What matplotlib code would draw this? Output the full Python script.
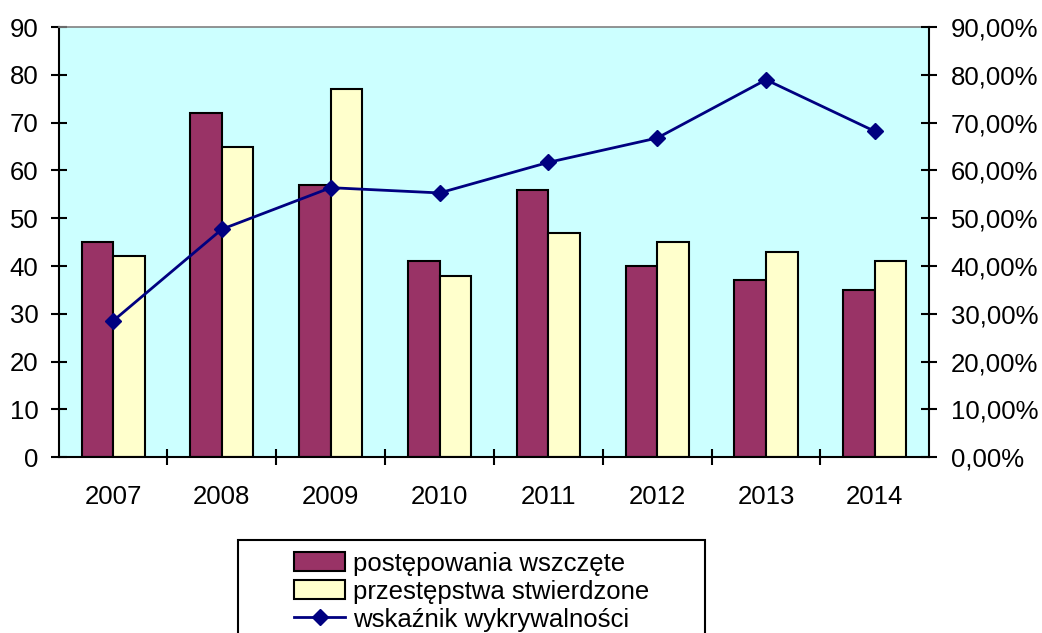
import matplotlib
matplotlib.use("Agg")
import matplotlib.pyplot as plt
import numpy as np
from matplotlib.patches import Patch, Rectangle
from matplotlib.lines import Line2D
from matplotlib.ticker import FixedLocator, FuncFormatter

plt.rcParams['font.family'] = ['Liberation Sans', 'DejaVu Sans']

years = ['2007', '2008', '2009', '2010', '2011', '2012', '2013', '2014']
postepowania = [45, 72, 57, 41, 56, 40, 37, 35]
przestepstwa = [42, 65, 77, 38, 47, 45, 43, 41]
wskaznik = [28.5, 47.7, 56.4, 55.3, 61.7, 66.8, 79.0, 68.2]  # percent

label_a = 'postępowania wszczęte'
label_b = 'przestępstwa stwierdzone'
label_c = 'wskaźnik wykrywalności'

c_a = '#993366'
c_b = '#FFFFCC'
c_line = '#000080'
bg = '#CCFFFF'

fs = 18.5

fig = plt.figure(figsize=(10.42, 6.33), dpi=100)
ax = fig.add_axes([0.0563, 0.278, 0.8355, 0.679])
ax.set_facecolor(bg)

x = np.arange(len(years))
w = 0.29
ax.bar(x - w / 2, postepowania, width=w, color=c_a, edgecolor='black', linewidth=1.5, zorder=2)
ax.bar(x + w / 2, przestepstwa, width=w, color=c_b, edgecolor='black', linewidth=1.5, zorder=2)

ax.set_xlim(-0.5, len(years) - 0.5)
ax.set_ylim(0, 90)
ax.set_yticks(np.arange(0, 91, 10))
ax.set_xticks(x)
ax.set_xticklabels(years)
ax.xaxis.set_minor_locator(FixedLocator(np.arange(0.5, len(years) - 1, 1.0)))
ax.tick_params(axis='x', which='major', length=0, pad=20, labelsize=fs)
ax.tick_params(axis='x', which='minor', direction='inout', length=11, width=1.5)
ax.tick_params(axis='y', direction='inout', length=11, width=1.5, pad=9, labelsize=fs)

for s in ['left', 'bottom']:
    ax.spines[s].set_linewidth(1.5)
    ax.spines[s].set_color('black')
ax.spines['top'].set_color('#808080')
ax.spines['top'].set_linewidth(1.2)
ax.spines['right'].set_visible(False)

ax2 = ax.twinx()
ax2.plot(x, np.array(wskaznik) / 100.0, color=c_line, linewidth=2.0, marker='D',
         markersize=8, markerfacecolor=c_line, markeredgecolor=c_line, zorder=5)
ax2.set_ylim(0, 0.9)
ax2.set_yticks(np.arange(0, 0.91, 0.1))
ax2.yaxis.set_major_formatter(FuncFormatter(lambda v, p: f"{v*100:.2f}%".replace('.', ',')))
ax2.tick_params(axis='y', direction='inout', length=11, width=1.5, pad=10, labelsize=fs)
ax2.spines['right'].set_linewidth(1.5)
ax2.spines['right'].set_color('black')
ax2.spines['top'].set_visible(False)
ax2.spines['left'].set_visible(False)
ax2.spines['bottom'].set_visible(False)

# legend box (extends below figure edge)
W, H = 1042.0, 633.0
rect = Rectangle((238 / W, -0.05), (705 - 238) / W, (H - 540) / H + 0.05,
                 transform=fig.transFigure, facecolor='white', edgecolor='black',
                 linewidth=1.5, clip_on=False)
fig.patches.append(rect)

handles = [
    Patch(facecolor=c_a, edgecolor='black', linewidth=1.5),
    Patch(facecolor=c_b, edgecolor='black', linewidth=1.5),
    Line2D([0], [0], color=c_line, linewidth=2.0, marker='D', markersize=8,
           markerfacecolor=c_line, markeredgecolor=c_line),
]
leg = fig.legend(handles, [label_a, label_b, label_c], loc='upper center',
                 bbox_to_anchor=(471.5 / W, (H - 539) / H), frameon=False,
                 fontsize=fs, handlelength=2.0, handleheight=0.75, handletextpad=0.3,
                 labelspacing=0.15, borderpad=0.0)

fig.savefig('out.png', dpi=100)
